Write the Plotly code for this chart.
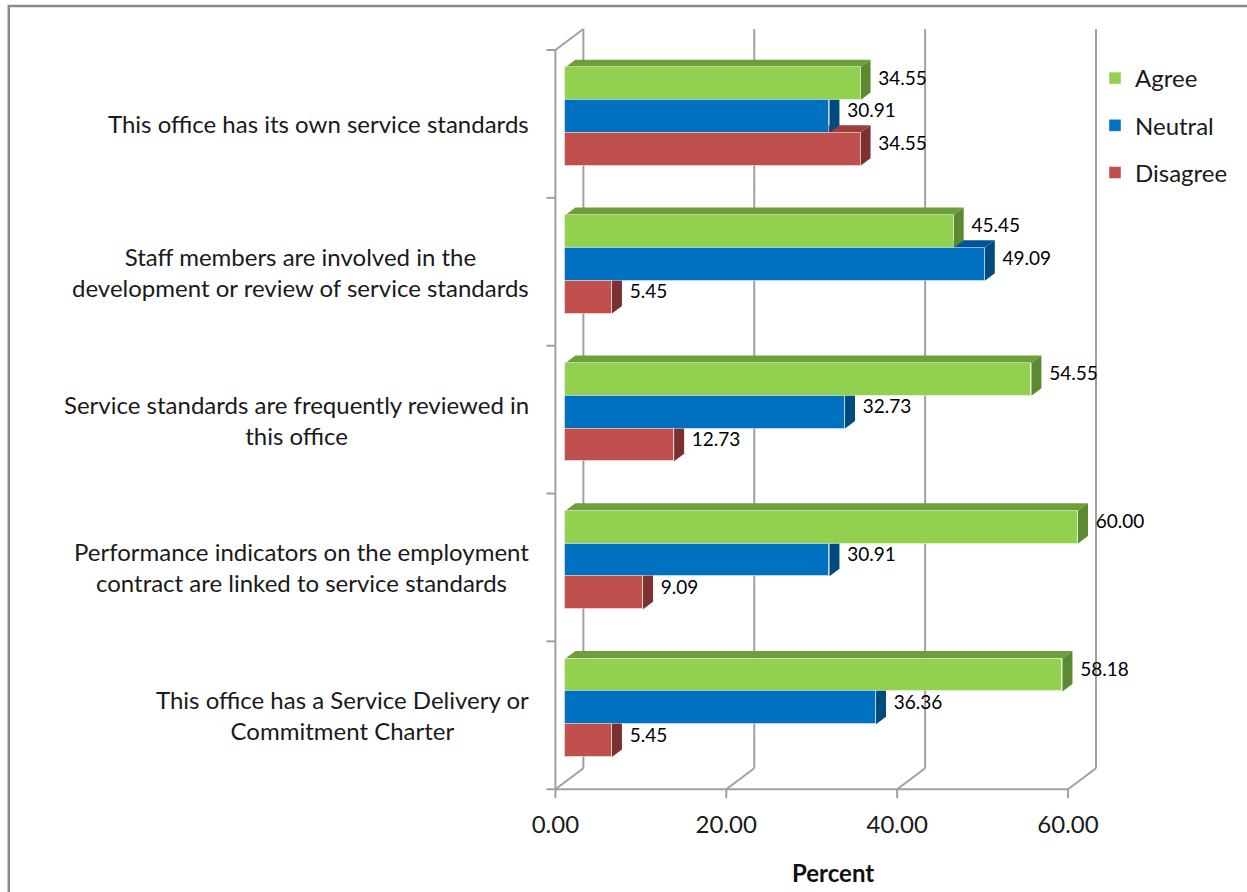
import plotly.graph_objects as go

# ---- data -------------------------------------------------------------
statements = [
    "This office has its own service standards",
    "Staff members are involved in the<br>development or review of service standards",
    "Service standards are frequently reviewed in<br>this office",
    "Performance indicators on the employment<br>contract are linked to service standards",
    "This office has a Service Delivery or<br>Commitment Charter",
]
agree = [34.55, 45.45, 54.55, 60.00, 58.18]
neutral = [30.91, 49.09, 32.73, 30.91, 36.36]
disagree = [34.55, 5.45, 12.73, 9.09, 5.45]
x_ticks = [0, 20, 40, 60]

# ---- geometry ---------------------------------------------------------
W, H = 1247, 892
PX_X, PX_Y = 8.55, 147.8          # pixels per data unit
X0_PX, YB_PX = 555, 789            # pixel of x=0 and of the floor (y=-0.5)
X_MIN, X_MAX = -1.1, (1102 - X0_PX) / PX_X
Y_MIN, Y_MAX = -0.6, -0.5 + (YB_PX - 28) / PX_Y
L = X0_PX + X_MIN * PX_X
R = X0_PX + X_MAX * PX_X
B = YB_PX + (-0.5 - Y_MIN) * PX_Y
T = YB_PX - (Y_MAX + 0.5) * PX_Y

DX, DY = 28 / PX_X, 21 / PX_Y      # depth of the 3-D box
BX0, BY0 = 0.357 * DX, 0.357 * DY  # bar front plane
BDX, BDY = 0.357 * DX, 0.357 * DY  # bar depth
BAR_H = 0.222
WALL = "#A0A0A0"
FONT = "Lato"


def px_to_paper(px, py):
    return (px - L) / (R - L), (B - py) / (B - T)


n = len(statements)
centers = [n - 1 - i for i in range(n)]  # first statement on top

series = [
    ("Agree", agree, 1, "#92D050", "#6F9E3D", "#5D8A30"),
    ("Neutral", neutral, 0, "#0070C0", "#00559A", "#004A80"),
    ("Disagree", disagree, -1, "#C0504D", "#9A3F3C", "#7C312F"),
]

shapes = []


def seg(x0, y0, x1, y1):
    shapes.append(dict(type="line", xref="x", yref="y", x0=x0, y0=y0, x1=x1, y1=y1,
                       line=dict(color=WALL, width=2), layer="below"))


# back wall gridlines and floor edges
for v in x_ticks:
    seg(v + DX, -0.5 + DY, v + DX, 4.5 + DY)
    seg(v, -0.5, v + DX, -0.5 + DY)
    seg(v, -0.5, v, -0.5 - 9 / PX_Y)
seg(0, -0.5, x_ticks[-1], -0.5)
seg(0, -0.5, 0, 4.5)
seg(0, 4.5, DX, 4.5 + DY)
for k in range(n + 1):
    seg(-9 / PX_X, -0.5 + k, 0, -0.5 + k)

# top and side faces, lowest series first so upper bars cover them
for name, vals, off, front, top_c, side_c in reversed(series):
    for c, v in zip(centers, vals):
        yc = c + BY0 + off * BAR_H
        y0, y1 = yc - BAR_H / 2, yc + BAR_H / 2
        x0, x1 = BX0, BX0 + v
        shapes.append(dict(
            type="path", xref="x", yref="y", layer="below", line=dict(width=0),
            fillcolor=top_c,
            path=f"M{x0},{y1} L{x1},{y1} L{x1 + BDX},{y1 + BDY} L{x0 + BDX},{y1 + BDY} Z"))
        shapes.append(dict(
            type="path", xref="x", yref="y", layer="below", line=dict(width=0),
            fillcolor=side_c,
            path=f"M{x1},{y0} L{x1 + BDX},{y0 + BDY} L{x1 + BDX},{y1 + BDY} L{x1},{y1} Z"))

# outer frame
fx0, fy1 = px_to_paper(8, 6)
fx1, fy0 = px_to_paper(1265, 905)
shapes.append(dict(type="rect", xref="paper", yref="paper", x0=fx0, x1=fx1, y0=fy0, y1=fy1,
                   line=dict(color="#8C8C8C", width=2.5)))

fig = go.Figure()
for rank, (name, vals, off, front, top_c, side_c) in enumerate(series):
    ys = [c + BY0 + off * BAR_H for c in centers]
    fig.add_trace(go.Bar(
        name=name, orientation="h", y=ys, x=vals, base=BX0, width=BAR_H,
        marker=dict(color=front, line=dict(color="rgba(255,255,255,0.45)", width=1)),
        legendrank=rank + 1, legendgroup=name, hoverinfo="skip"))
    fig.add_trace(go.Scatter(
        x=[BX0 + v + BDX + 0.9 for v in vals], y=[y + BDY / 2 for y in ys],
        text=[f"{v:.2f}" for v in vals], mode="text", textposition="middle right",
        textfont=dict(family=FONT, size=19, color="#000000"),
        showlegend=False, cliponaxis=False, hoverinfo="skip"))

annotations = []
lx, _ = px_to_paper(531, 0)
for c, s in zip(centers, statements):
    annotations.append(dict(
        xref="paper", yref="y", x=lx, y=c, xanchor="right", yanchor="middle",
        text=s, align="center", showarrow=False,
        font=dict(family=FONT, size=24, color="#1a1a1a")))
tx, ty = px_to_paper(833, 872)
annotations.append(dict(
    xref="paper", yref="paper", x=tx, y=ty, text="<b>Percent</b>", showarrow=False,
    xanchor="center", yanchor="middle", font=dict(family=FONT, size=24, color="#111111")))

lgx, lgy = px_to_paper(1095, 56)
fig.update_layout(
    width=W, height=H,
    margin=dict(l=L, r=W - R, t=T, b=H - B, pad=0),
    paper_bgcolor="white", plot_bgcolor="white",
    barmode="overlay", bargap=0,
    shapes=shapes, annotations=annotations,
    showlegend=True,
    legend=dict(x=lgx, y=lgy, xanchor="left", yanchor="top",
                font=dict(family=FONT, size=24, color="#1a1a1a"),
                tracegroupgap=13, bgcolor="rgba(0,0,0,0)"),
    xaxis=dict(range=[X_MIN, X_MAX], tickvals=x_ticks,
               ticktext=[f"{v:.2f}" for v in x_ticks],
               showgrid=False, zeroline=False, showline=False, ticks="",
               ticklabelstandoff=4,
               tickfont=dict(family=FONT, size=24, color="#1a1a1a")),
    yaxis=dict(range=[Y_MIN, Y_MAX], showgrid=False, zeroline=False,
               showline=False, showticklabels=False, ticks=""),
    font=dict(family=FONT),
)

fig.write_html("out.html")
